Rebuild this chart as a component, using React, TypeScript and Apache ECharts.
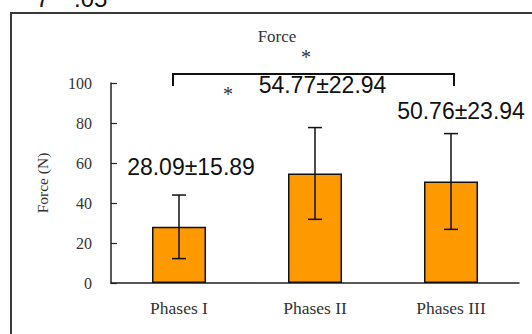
import React, { useEffect, useRef } from "react";
import * as echarts from "echarts";

const categories = ["Phases I", "Phases II", "Phases III"];
const means = [28.09, 54.77, 50.76];
const sds = [15.89, 22.94, 23.94];
const yTicks = { min: 0, max: 100, interval: 20 };
const chartTitle = "Force";
const yName = "Force (N)";
const bracketLevel = 104.5; // y value of comparison bracket
const bracketPair = [0, 2];
const sigMark = "*";
const topFragments = ["7", ".05"];

// label pixel offsets relative to top of the error bar (style only)
const labelOffsets = [
  [12, -28],
  [7.5, -42.5],
  [10, -22.5],
];

export default function App() {
  const ref = useRef<HTMLDivElement>(null);
  useEffect(() => {
    if (!ref.current) return;
    const chart = echarts.init(ref.current, null, { renderer: "svg" });
    const serif = '"Liberation Serif", "Times New Roman", serif';
    const sans = '"Liberation Sans", Arial, sans-serif';
    const fmt = (m: number, s: number) => `${m.toFixed(2)}±${s.toFixed(2)}`;

    chart.setOption({
      animation: false,
      backgroundColor: "#ffffff",
      grid: { left: 111, right: 13, top: 83, bottom: 51, containLabel: false },
      graphic: [
        {
          type: "rect",
          z: -10,
          shape: { x: 11, y: 13, width: 600, height: 400 },
          style: { fill: "none", stroke: "#3a3a3a", lineWidth: 2 },
        },
        {
          type: "text",
          x: 277,
          y: 36,
          style: {
            text: chartTitle,
            fontFamily: serif,
            fontSize: 17,
            fill: "#333",
            align: "center",
            verticalAlign: "middle",
          },
        },
        {
          type: "text",
          x: 36,
          y: 10,
          style: {
            text: topFragments[0],
            fontFamily: sans,
            fontSize: 24,
            fill: "#111",
            align: "left",
            verticalAlign: "bottom",
          },
        },
        {
          type: "text",
          x: 74,
          y: 10,
          style: {
            text: topFragments[1],
            fontFamily: sans,
            fontSize: 24,
            fill: "#111",
            align: "left",
            verticalAlign: "bottom",
          },
        },
      ],
      xAxis: {
        type: "category",
        data: categories,
        boundaryGap: true,
        axisLine: { lineStyle: { color: "#222", width: 1.5 } },
        axisTick: { inside: true, length: 4, lineStyle: { color: "#222", width: 1.2 } },
        axisLabel: { fontFamily: serif, fontSize: 17.5, color: "#333", margin: 16 },
        splitLine: { show: false },
      },
      yAxis: {
        type: "value",
        min: yTicks.min,
        max: yTicks.max,
        interval: yTicks.interval,
        name: yName,
        nameLocation: "middle",
        nameGap: 61,
        nameTextStyle: { fontFamily: serif, fontSize: 15.5, color: "#333" },
        axisLine: { show: true, lineStyle: { color: "#222", width: 1.5 } },
        axisTick: { show: true, inside: true, length: 6, lineStyle: { color: "#222", width: 1.2 } },
        axisLabel: { fontFamily: serif, fontSize: 16, color: "#333", margin: 19 },
        splitLine: { show: false },
      },
      series: [
        {
          type: "bar",
          data: means,
          barWidth: 54,
          itemStyle: { color: "#FF9900", borderColor: "#111", borderWidth: 1.5 },
          z: 2,
        },
        {
          type: "custom",
          z: 3,
          clip: false,
          data: means.map((m, i) => [i, m, sds[i]]),
          encode: { x: 0, y: 1 },
          renderItem: (params: any, api: any) => {
            const i = api.value(0);
            const m = api.value(1);
            const s = api.value(2);
            const top = api.coord([i, m + s]);
            const bot = api.coord([i, m - s]);
            const cap = 7;
            const ls = { stroke: "#111", lineWidth: 1.5 };
            const off = labelOffsets[params.dataIndex];
            return {
              type: "group",
              children: [
                { type: "line", shape: { x1: top[0], y1: top[1], x2: bot[0], y2: bot[1] }, style: ls },
                { type: "line", shape: { x1: top[0] - cap, y1: top[1], x2: top[0] + cap, y2: top[1] }, style: ls },
                { type: "line", shape: { x1: bot[0] - cap, y1: bot[1], x2: bot[0] + cap, y2: bot[1] }, style: ls },
                {
                  type: "text",
                  x: top[0] + off[0],
                  y: top[1] + off[1],
                  style: {
                    text: fmt(m, s),
                    fontFamily: sans,
                    fontSize: 23,
                    fill: "#111",
                    align: "center",
                    verticalAlign: "middle",
                  },
                },
              ],
            };
          },
        },
        {
          type: "custom",
          z: 3,
          clip: false,
          data: [[bracketPair[0], bracketLevel, bracketPair[1]]],
          encode: { x: 0, y: 1 },
          renderItem: (params: any, api: any) => {
            const lv = api.value(1);
            const a = api.coord([api.value(0), lv]);
            const b = api.coord([api.value(2), lv]);
            const ls = { stroke: "#111", lineWidth: 2 };
            const x1 = a[0] - 6;
            const x2 = b[0] + 3;
            const y = a[1];
            const mid = (a[0] + b[0]) / 2;
            const star = {
              fontFamily: serif,
              fontSize: 20,
              fill: "#333",
              align: "center",
              verticalAlign: "middle",
            };
            return {
              type: "group",
              children: [
                {
                  type: "polyline",
                  shape: { points: [[x1, y + 12], [x1, y], [x2, y], [x2, y + 12]] },
                  style: { ...ls, fill: "none" },
                },
                { type: "text", x: mid - 9, y: y - 17, style: { ...star, text: sigMark } },
                { type: "text", x: a[0] + 49, y: y + 20, style: { ...star, text: sigMark } },
              ],
            };
          },
        },
      ],
    });
    return () => chart.dispose();
  }, []);
  return (
    <div
      ref={ref}
      style={{ position: "absolute", left: 0, top: 0, width: 532, height: 334 }}
    />
  );
}
